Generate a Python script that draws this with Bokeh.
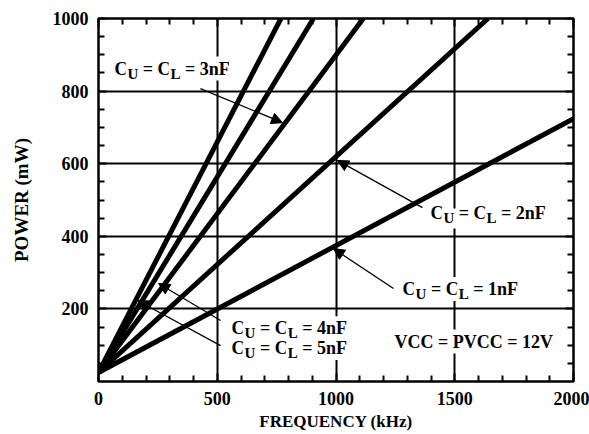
from bokeh.plotting import figure
from bokeh.models import Range1d, FixedTicker, LinearAxis, Arrow, NormalHead, CustomLabelingPolicy
from bokeh.core.properties import value
from bokeh.embed import file_html
from bokeh.resources import INLINE

# ---- data ----
series_names = ["1nF", "2nF", "3nF", "4nF", "5nF"]
freq_start = [0, 0, 0, 0, 0]
power_start = [25, 25, 25, 25, 25]
freq_end = [2000, 1640, 1115, 905, 768]
power_end = [724, 1000, 1000, 1000, 1000]

x_ticks = [0, 500, 1000, 1500, 2000]
y_ticks = [200, 400, 600, 800, 1000]

# annotation labels
label_x = [59, 1389, 1272, 552, 552]
label_y = [862, 463, 255, 147, 92]
label_val = ["3nF", "2nF", "1nF", "4nF", "5nF"]
# arrows: start -> tip
arrow_x0 = [429, 1364, 1242, 514, 514]
arrow_y0 = [807, 479, 256, 168, 99]
arrow_x1 = [775, 1006, 989, 253, 164]
arrow_y1 = [713, 609, 366, 270, 223]

FONT = "Liberation Serif"

p = figure(width=589, height=434, x_range=Range1d(0, 2000), y_range=Range1d(0, 1000),
           output_backend="svg", toolbar_location=None,
           min_border_left=98, min_border_right=16, min_border_top=18, min_border_bottom=53,
           x_axis_label="FREQUENCY (kHz)", y_axis_label="POWER (mW)")

xt = FixedTicker(ticks=x_ticks, minor_ticks=[v for v in range(0, 2001, 100) if v % 500])
yt = FixedTicker(ticks=y_ticks, minor_ticks=[v for v in range(0, 1001, 50) if v % 200])

p.outline_line_color = "black"
p.outline_line_width = 2.5

for ax, tk in ((p.xaxis[0], xt), (p.yaxis[0], yt)):
    ax.ticker = tk
    ax.axis_line_color = None
    ax.major_tick_in = 8
    ax.major_tick_out = 0
    ax.minor_tick_in = 6
    ax.minor_tick_out = 0
    ax.major_tick_line_width = 2
    ax.minor_tick_line_width = 2
    ax.major_label_text_font = FONT
    ax.major_label_text_font_style = "bold"
    ax.major_label_text_font_size = "18px"
    ax.major_label_text_color = "black"
    ax.axis_label_text_font = FONT
    ax.axis_label_text_font_style = "bold"
    ax.axis_label_text_color = "black"

p.xaxis[0].axis_label_text_font_size = "17px"
p.yaxis[0].axis_label_text_font_size = "19px"
p.xaxis[0].major_label_standoff = 10
p.xaxis[0].axis_label_standoff = 4
p.yaxis[0].major_label_standoff = 10
p.yaxis[0].axis_label_standoff = 18

no_labels = CustomLabelingPolicy(code="return new Set()")
for loc, tk in (("above", xt), ("right", yt)):
    a = LinearAxis(ticker=tk, axis_line_color=None, major_tick_in=8, major_tick_out=0,
                   minor_tick_in=6, minor_tick_out=0, major_tick_line_width=2,
                   minor_tick_line_width=2, major_label_policy=no_labels,
                   major_label_text_font_size="1px", major_label_standoff=0)
    p.add_layout(a, loc)

p.xgrid.ticker = xt
p.ygrid.ticker = yt
for g in (p.xgrid[0], p.ygrid[0]):
    g.grid_line_color = "black"
    g.grid_line_width = 2

for i in range(len(series_names)):
    p.line([freq_start[i], freq_end[i]], [power_start[i], power_end[i]],
           line_color="black", line_width=5)

# text with subscripts (Times-Bold compatible widths)
W = {"C": .722, "U": .722, "L": .667, " ": .25, "=": .570, "n": .556, "F": .611,
     "V": .722, "P": .611}
MAIN = 18
SUB = 15


def draw_parts(x, y, parts):
    off = 0.0
    for txt, sub in parts:
        size = SUB if sub else MAIN
        run = ""
        run_off = off
        for c in txt + " ":
            if c == " ":
                if run:
                    p.text([x], [y], text=[run], x_offset=run_off, y_offset=5 if sub else 0,
                           text_font=value(FONT), text_font_style="bold",
                           text_font_size=f"{size}px", text_color="black",
                           text_align="left", text_baseline="middle",
                           background_fill_color="white", padding=2)
                run = ""
                off += W[" "] * size
                run_off = off
            else:
                run += c
                off += W.get(c, .5) * size
        off -= W[" "] * size


for i in range(len(label_val)):
    draw_parts(label_x[i], label_y[i],
               [("C", False), ("U", True), (" = C", False), ("L", True),
                (" = " + label_val[i], False)])

draw_parts(1238, 110, [("VCC = PVCC = 12V", False)])

for i in range(len(arrow_x0)):
    p.add_layout(Arrow(end=NormalHead(size=11, fill_color="black", line_color="black"),
                       x_start=arrow_x0[i], y_start=arrow_y0[i],
                       x_end=arrow_x1[i], y_end=arrow_y1[i],
                       line_width=1.3, line_color="black"))

open("out.html", "w").write(file_html(p, INLINE))
